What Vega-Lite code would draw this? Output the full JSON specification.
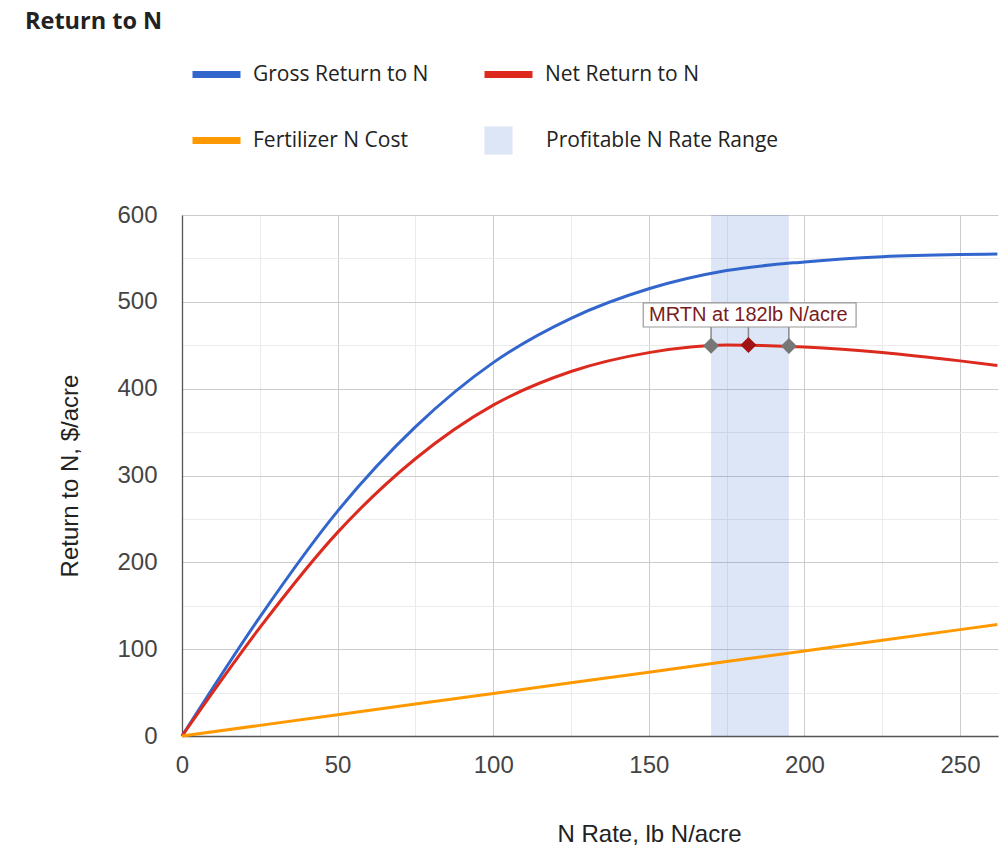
{
  "$schema": "https://vega.github.io/schema/vega-lite/v6.json",
  "autosize": {"type": "none"},
  "padding": {"left": 182, "top": 215, "right": 7, "bottom": 124},
  "width": 816,
  "height": 521,
  "background": "white",
  "title": {"text": "Return to N", "anchor": "start", "frame": "group", "dx": -157, "dy": -10, "font": "Open Sans", "fontSize": 23.5, "fontWeight": "bold", "color": "#222222"},
  "datasets": {
    "curves": [
      {"n": 0, "gross": 0, "net": 0, "cost": 0},
      {"n": 25, "gross": 137, "net": 124.75, "cost": 12.25},
      {"n": 50, "gross": 259, "net": 234.5, "cost": 24.5},
      {"n": 75, "gross": 356, "net": 319.25, "cost": 36.75},
      {"n": 100, "gross": 430, "net": 381, "cost": 49},
      {"n": 125, "gross": 481, "net": 419.75, "cost": 61.25},
      {"n": 150, "gross": 515, "net": 441.5, "cost": 73.5},
      {"n": 175, "gross": 536, "net": 450.25, "cost": 85.75},
      {"n": 200, "gross": 546, "net": 448, "cost": 98},
      {"n": 225, "gross": 552, "net": 441.75, "cost": 110.25},
      {"n": 250, "gross": 554.5, "net": 432, "cost": 122.5},
      {"n": 262, "gross": 555, "net": 426.6, "cost": 128.4}
    ],
    "markers": [
      {"n": 170, "v": 449.5, "kind": "range", "top": 471},
      {"n": 182, "v": 450.3, "kind": "mrtn", "top": 471},
      {"n": 195, "v": 449, "kind": "range", "top": 471}
    ],
    "band": [
      {"lo": 170, "hi": 195, "name": "Profitable N Rate Range"}
    ],
    "note": [
      {"n": 182, "v": 485, "left": 148.2, "right": 216.6, "bottom": 471, "top": 498.7, "label": "MRTN at 182lb N/acre"}
    ]
  },
  "config": {
    "view": {"stroke": null},
    "axis": {
      "labelFont": "Liberation Sans",
      "labelFontSize": 24,
      "labelColor": "#444444",
      "titleFont": "Liberation Sans",
      "titleFontSize": 24,
      "titleColor": "#222222",
      "titleFontWeight": "normal",
      "ticks": false,
      "domainColor": "#555555",
      "domainWidth": 1.3,
      "labelOverlap": false,
      "labelFlush": false,
      "gridWidth": 1
    },
    "legend": {
      "orient": "none",
      "title": null,
      "labelFont": "Open Sans",
      "labelFontSize": 21,
      "labelColor": "#222222",
      "labelLimit": 400,
      "padding": 0,
      "labelOffset": 9
    }
  },
  "layer": [
    {
      "data": {"name": "band"},
      "mark": {"type": "rect", "opacity": 0.165},
      "encoding": {
        "x": {"field": "lo", "type": "quantitative", "scale": {"domain": [0, 262.2], "nice": false, "zero": false},
          "axis": {
            "values": [0, 25, 50, 75, 100, 125, 150, 175, 200, 225, 250],
            "labelExpr": "datum.value % 50 === 0 ? datum.label : ''",
            "gridColor": {"condition": {"test": "datum.value % 50 === 0", "value": "#cccccc"}, "value": "#ebebeb"},
            "labelPadding": 17,
            "title": "N Rate, lb N/acre",
            "titleX": 467,
            "titleY": 98,
            "titleBaseline": "middle"
          }},
        "x2": {"field": "hi"},
        "color": {"field": "name", "type": "nominal", "scale": {"range": ["#3366cc"]},
          "legend": {"legendX": 302, "legendY": -89, "symbolType": "square", "symbolSize": 800, "labelOffset": 33, "symbolStrokeWidth": 0}}
      }
    },
    {
      "data": {"name": "curves"},
      "mark": {"type": "line", "strokeWidth": 3, "interpolate": "monotone"},
      "encoding": {
        "x": {"field": "n", "type": "quantitative"},
        "y": {"field": "gross", "type": "quantitative", "scale": {"domain": [0, 600], "nice": false},
          "axis": {
            "values": [0, 50, 100, 150, 200, 250, 300, 350, 400, 450, 500, 550, 600],
            "labelExpr": "datum.value % 100 === 0 ? datum.label : ''",
            "gridColor": {"condition": {"test": "datum.value % 100 === 0", "value": "#cccccc"}, "value": "#ebebeb"},
            "labelPadding": 25,
            "title": "Return to N, $/acre",
            "titleX": -112,
            "titleY": 260.5,
            "titleBaseline": "middle"
          }},
        "color": {"datum": "Gross Return to N", "scale": {"range": ["#3366cc"]},
          "legend": {"legendX": 7, "legendY": -168, "symbolType": "stroke", "symbolSize": 2304, "symbolStrokeWidth": 7}}
      }
    },
    {
      "data": {"name": "curves"},
      "mark": {"type": "line", "strokeWidth": 3, "interpolate": "monotone"},
      "encoding": {
        "x": {"field": "n", "type": "quantitative"},
        "y": {"field": "net", "type": "quantitative"},
        "color": {"datum": "Net Return to N", "scale": {"range": ["#dc2a1e"]},
          "legend": {"legendX": 299, "legendY": -168, "symbolType": "stroke", "symbolSize": 2304, "symbolStrokeWidth": 7}}
      }
    },
    {
      "data": {"name": "curves"},
      "mark": {"type": "line", "strokeWidth": 3},
      "encoding": {
        "x": {"field": "n", "type": "quantitative"},
        "y": {"field": "cost", "type": "quantitative"},
        "color": {"datum": "Fertilizer N Cost", "scale": {"range": ["#ff9900"]},
          "legend": {"legendX": 7, "legendY": -102, "symbolType": "stroke", "symbolSize": 2304, "symbolStrokeWidth": 7}}
      }
    },
    {
      "data": {"name": "markers"},
      "mark": {"type": "rule", "color": "#888888", "strokeWidth": 1.5},
      "encoding": {
        "x": {"field": "n", "type": "quantitative"},
        "y": {"field": "v", "type": "quantitative"},
        "y2": {"field": "top"}
      }
    },
    {
      "data": {"name": "markers"},
      "mark": {"type": "point", "shape": "diamond", "size": 256, "filled": true, "opacity": 1},
      "encoding": {
        "x": {"field": "n", "type": "quantitative"},
        "y": {"field": "v", "type": "quantitative"},
        "fill": {"field": "kind", "type": "nominal", "scale": {"domain": ["range", "mrtn"], "range": ["#777777", "#a01414"]}, "legend": null}
      }
    },
    {
      "data": {"name": "note"},
      "mark": {"type": "rect", "fill": "white", "stroke": "#999999", "strokeWidth": 1.2},
      "encoding": {
        "x": {"field": "left", "type": "quantitative"},
        "x2": {"field": "right"},
        "y": {"field": "bottom", "type": "quantitative"},
        "y2": {"field": "top"}
      }
    },
    {
      "data": {"name": "note"},
      "mark": {"type": "text", "font": "Liberation Sans", "fontSize": 20, "color": "#7a1c1c", "align": "center", "baseline": "middle"},
      "encoding": {
        "x": {"field": "n", "type": "quantitative"},
        "y": {"field": "v", "type": "quantitative"},
        "text": {"field": "label"}
      }
    }
  ],
  "resolve": {"scale": {"color": "independent"}}
}
